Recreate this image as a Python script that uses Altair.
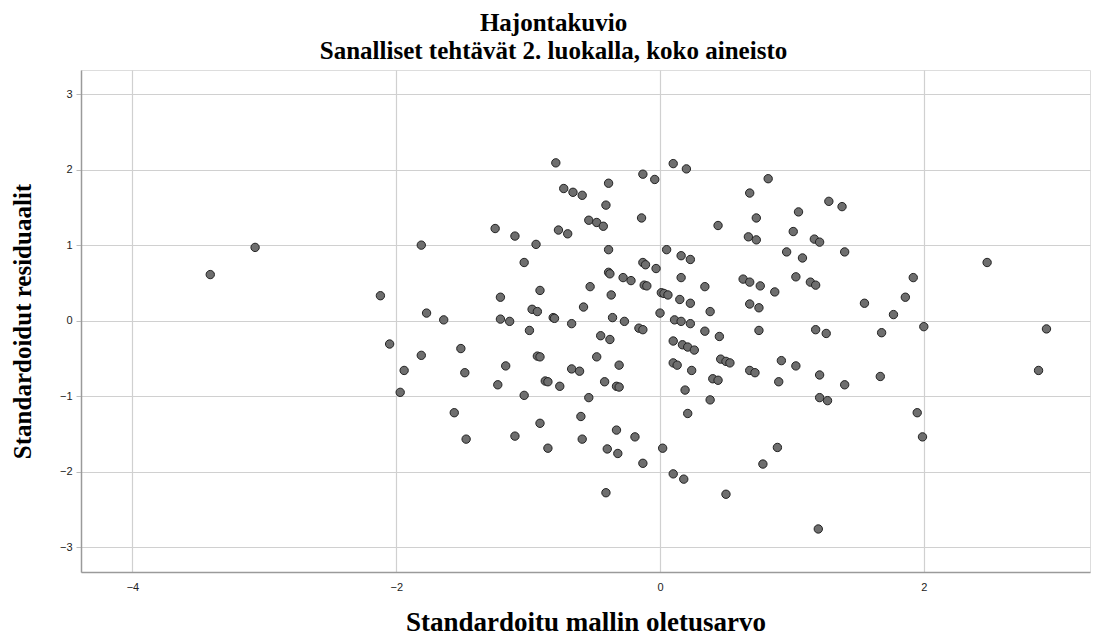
import altair as alt
import pandas as pd

x_vals = [-3.41, -3.07, -1.25, -1.10, -1.81, -1.03, -2.12, -1.21, -0.97, -1.77,
          -1.64, -1.21, -1.14, -0.99, -2.05, -1.81, -1.51, -1.94, -1.48, -1.17,
          -1.23, -1.97, -1.03, -1.56, -1.47, -1.10, -0.79, 0.10, 0.20, -0.13,
          -0.04, -0.73, -0.66, -0.59, -0.39, -0.41, -0.54, -0.48, -0.43, -0.14,
          -0.77, -0.70, -0.94, -0.39, 0.05, 0.16, 0.23, -0.13, -0.11, -0.03,
          0.16, -0.39, -0.38, -0.28, -0.22, -0.91, -0.53, -0.37, -0.12, -0.10,
          0.01, 0.03, 0.06, 0.15, 0.23, -0.93, -0.58, -0.81, -0.80, -0.67,
          -0.36, -0.27, 0.00, 0.11, 0.16, 0.23, -0.16, -0.13, -0.45, -0.38,
          0.10, 0.17, 0.21, 0.26, -0.93, -0.91, -0.48, -0.31, -0.67, -0.61,
          0.10, 0.13, 0.24, -0.87, -0.85, -0.76, -0.42, -0.33, -0.31, -0.54,
          0.19, -0.91, -0.60, 0.21, -0.33, -0.19, -0.85, -0.59, -0.40, -0.32,
          0.02, -0.13, 0.10, 0.18, -0.41, 0.82, 0.68, 1.28, 1.38, 1.05,
          0.73, 0.44, 1.01, 0.67, 0.73, 1.17, 1.21, 0.96, 1.40, 1.08,
          0.34, 0.63, 0.68, 0.76, 0.87, 1.03, 1.14, 1.18, 0.38, 0.68,
          0.75, 1.55, 0.34, 0.45, 0.75, 1.18, 1.26, 0.46, 0.50, 0.53,
          0.92, 1.03, 0.68, 0.72, 0.40, 0.44, 0.90, 1.21, 1.40, 0.38,
          1.21, 1.27, 0.89, 0.78, 0.50, 2.48, 1.92, 1.86, 1.77, 2.00,
          2.93, 1.68, 1.67, 2.87, 1.95, 1.99, 1.20]

y_vals = [0.61, 0.97, 1.22, 1.12, 1.00, 0.77, 0.33, 0.31, 0.15, 0.10,
          0.01, 0.02, -0.01, -0.13, -0.31, -0.46, -0.37, -0.66, -0.69, -0.60,
          -0.85, -0.95, -0.99, -1.22, -1.57, -1.53, 2.09, 2.08, 2.01, 1.94,
          1.87, 1.75, 1.70, 1.66, 1.82, 1.53, 1.33, 1.30, 1.25, 1.36,
          1.20, 1.15, 1.01, 0.94, 0.94, 0.86, 0.81, 0.77, 0.74, 0.69,
          0.57, 0.64, 0.62, 0.57, 0.53, 0.40, 0.45, 0.34, 0.47, 0.46,
          0.37, 0.36, 0.34, 0.28, 0.23, 0.12, 0.18, 0.04, 0.03, -0.04,
          0.04, -0.01, 0.10, 0.01, -0.01, -0.04, -0.10, -0.12, -0.20, -0.25,
          -0.27, -0.32, -0.35, -0.39, -0.47, -0.48, -0.48, -0.59, -0.64, -0.67,
          -0.56, -0.59, -0.66, -0.80, -0.81, -0.87, -0.81, -0.87, -0.88, -1.02,
          -0.92, -1.36, -1.27, -1.23, -1.45, -1.54, -1.69, -1.57, -1.70, -1.76,
          -1.69, -1.89, -2.03, -2.10, -2.28, 1.88, 1.69, 1.58, 1.51, 1.44,
          1.36, 1.26, 1.18, 1.11, 1.07, 1.08, 1.04, 0.91, 0.91, 0.83,
          0.45, 0.55, 0.51, 0.46, 0.38, 0.58, 0.51, 0.47, 0.12, 0.22,
          0.17, 0.23, -0.14, -0.21, -0.13, -0.12, -0.17, -0.51, -0.54, -0.56,
          -0.53, -0.60, -0.66, -0.69, -0.77, -0.79, -0.81, -0.72, -0.85, -1.05,
          -1.02, -1.06, -1.68, -1.90, -2.30, 0.77, 0.57, 0.31, 0.08, -0.08,
          -0.11, -0.16, -0.74, -0.66, -1.22, -1.54, -2.76]

x_ticks = [-4, -2, 0, 2]
y_ticks = [-3, -2, -1, 0, 1, 2, 3]

title_lines = ["Hajontakuvio", "Sanalliset tehtävät 2. luokalla, koko aineisto"]
x_title = "Standardoitu mallin oletusarvo"
y_title = "Standardoidut residuaalit"

df = pd.DataFrame({"x": x_vals, "y": y_vals})

serif = "Liberation Serif"
sans = "Liberation Sans"

chart = alt.Chart(df).mark_circle(
    size=70, color="#6e6e6e", opacity=1, stroke="#222222", strokeWidth=1
).encode(
    x=alt.X("x:Q",
            scale=alt.Scale(domain=[-4.39, 3.26], nice=False, zero=False),
            axis=alt.Axis(values=x_ticks, title=x_title, format="d",
                          titleFont=serif, titleFontSize=27, titleFontWeight="bold",
                          titleColor="#000000", titleY=58, titleBaseline="alphabetic",
                          labelFont=sans, labelFontSize=11, labelColor="#222222",
                          labelPadding=9, tickSize=0, domainColor="#9a9a9a",
                          domainWidth=1.5, gridColor="#d0d0d0", gridWidth=1.2)),
    y=alt.Y("y:Q",
            scale=alt.Scale(domain=[-3.33, 3.32], nice=False, zero=False),
            axis=alt.Axis(values=y_ticks, title=y_title, format="d",
                          titleFont=serif, titleFontSize=25, titleFontWeight="bold",
                          titleColor="#000000", titleX=-51, titleBaseline="alphabetic",
                          labelFont=sans, labelFontSize=11, labelColor="#222222",
                          labelPadding=4, tickSize=5, tickColor="#bbbbbb",
                          domainColor="#9a9a9a", domainWidth=1.5,
                          gridColor="#d0d0d0", gridWidth=1.2)),
).properties(
    width=1009,
    height=502,
    title=alt.TitleParams(text=title_lines, font=serif, fontSize=25,
                          fontWeight="bold", color="#000000", lineHeight=28,
                          offset=6, dx=-32, anchor="middle"),
    autosize=alt.AutoSizeParams(type="none"),
    padding={"left": 73, "top": 62, "right": 4, "bottom": 63},
).configure_view(stroke=None).configure(background="white")

chart.save("out.html", embed_options={"renderer": "svg", "actions": False})
